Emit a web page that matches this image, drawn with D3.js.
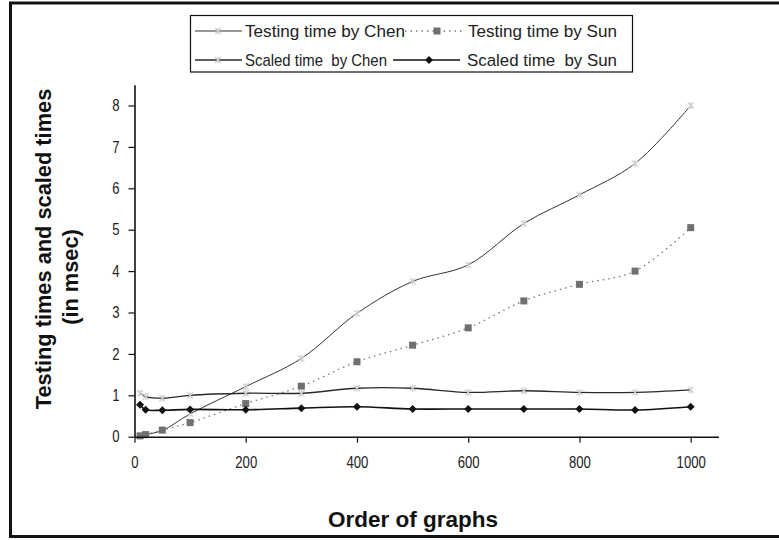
<!DOCTYPE html>
<html>
<head>
<meta charset="utf-8">
<script src="https://cdn.jsdelivr.net/npm/d3@7"></script>
<style>
  body { margin: 0; background: #fff; }
  svg { display: block; }
</style>
</head>
<body>
<script>
// graph orders on the x axis
var orders = [10, 20, 50, 100, 200, 300, 400, 500, 600, 700, 800, 900, 1000];

// values in msec
var chenTesting = [0.02, 0.05, 0.15, 0.55, 1.21, 1.89, 2.98, 3.75, 4.15, 5.15, 5.84, 6.6, 8.0];
var sunTesting  = [0.02, 0.05, 0.16, 0.34, 0.8, 1.22, 1.81, 2.21, 2.63, 3.28, 3.68, 4.0, 5.05];
var chenScaled  = [1.05, 0.97, 0.93, 1.0, 1.05, 1.05, 1.17, 1.17, 1.07, 1.11, 1.07, 1.07, 1.13];
var sunScaled   = [0.77, 0.65, 0.64, 0.66, 0.65, 0.69, 0.725, 0.67, 0.67, 0.67, 0.67, 0.645, 0.725];

var xTicks = [0, 200, 400, 600, 800, 1000];
var yTicks = [0, 1, 2, 3, 4, 5, 6, 7, 8];

var seriesNames = ["Testing time by Chen", "Testing time by Sun", "Scaled time  by Chen", "Scaled time  by Sun"];

var width = 779, height = 540;

var svg = d3.select("body").append("svg")
	.attr("width", width)
	.attr("height", height);

svg.append("rect").attr("width", width).attr("height", height).attr("fill", "#fff");

// frame (no right edge in the original)
svg.append("path")
	.attr("d", "M779,3H10.5V536.5H779")
	.attr("fill", "none")
	.attr("stroke", "#111")
	.attr("stroke-width", 3);

var x = d3.scaleLinear().domain([0, 1050]).range([134.5, 718.5]);
var y = d3.scaleLinear().domain([0, 8.5]).range([436.7, 84.8]);

var series = [
	{ name: seriesNames[0], values: chenTesting, stroke: "#333", width: 1, dash: null, marker: "x" },
	{ name: seriesNames[1], values: sunTesting, stroke: "#777", width: 1.3, dash: "1.5,4", marker: "square" },
	{ name: seriesNames[2], values: chenScaled, stroke: "#2a2a2a", width: 1.3, dash: null, marker: "x" },
	{ name: seriesNames[3], values: sunScaled, stroke: "#111", width: 1.6, dash: null, marker: "diamond" }
];

var line = d3.line()
	.x((d) => x(d.x))
	.y((d) => y(d.y))
	.curve(d3.curveCatmullRom.alpha(0.5));

var g = svg.append("g");

function drawMarker(sel, type) {
	if (type === "x") {
		sel.append("path")
			.attr("d", "M-3,-3L3,3M-3,3L3,-3M0,-3.5V3.5")
			.attr("stroke", "#cfcfcf")
			.attr("stroke-width", 1.2)
			.attr("fill", "none");
	} else if (type === "square") {
		sel.append("rect")
			.attr("x", -3.5).attr("y", -3.5)
			.attr("width", 7).attr("height", 7)
			.attr("fill", "#707070");
	} else {
		sel.append("path")
			.attr("d", "M0,-4L4,0L0,4L-4,0Z")
			.attr("fill", "#111");
	}
}

series.forEach((s) => {
	var pts = orders.map((o, i) => ({ x: o, y: s.values[i] }));
	g.append("path")
		.datum(pts)
		.attr("d", line)
		.attr("fill", "none")
		.attr("stroke", s.stroke)
		.attr("stroke-width", s.width)
		.attr("stroke-dasharray", s.dash);
	g.selectAll(null)
		.data(pts)
		.enter()
		.append("g")
		.attr("transform", (d) => "translate(" + x(d.x) + "," + y(d.y) + ")")
		.each(function() { drawMarker(d3.select(this), s.marker); });
});

// axes
var tickFont = "'Liberation Sans', Arial, sans-serif";
var squeeze = 0.82; // tick labels are narrow in the original

var xAxis = svg.append("g")
	.attr("transform", "translate(0," + y(0) + ")")
	.call(d3.axisBottom(x).tickValues(xTicks).tickFormat(d3.format("d"))
		.tickSize(6).tickPadding(14).tickSizeOuter(0));
var yAxis = svg.append("g")
	.attr("transform", "translate(" + x(0) + ",0)")
	.call(d3.axisLeft(y).tickValues(yTicks).tickFormat(d3.format("d"))
		.tickSize(6).tickPadding(9).tickSizeOuter(0));

[xAxis, yAxis].forEach((a) => {
	a.select(".domain").attr("stroke", "#111").attr("stroke-width", 1.6);
	a.selectAll(".tick line").attr("stroke", "#111").attr("stroke-width", 1.2);
	a.selectAll(".tick text")
		.attr("fill", "#222")
		.style("font-family", tickFont)
		.style("font-size", "16px")
		.attr("transform", "scale(" + squeeze + ",1)");
});
yAxis.selectAll(".tick text").attr("x", -15 / squeeze);

// axis titles
svg.append("text")
	.attr("x", 413)
	.attr("y", 527)
	.attr("text-anchor", "middle")
	.style("font-family", "'Liberation Sans', Arial, sans-serif")
	.style("font-weight", "bold")
	.style("font-size", "22.5px")
	.attr("fill", "#111")
	.text("Order of graphs");

svg.append("text")
	.attr("transform", "rotate(-90)")
	.attr("x", -249)
	.attr("y", 51)
	.attr("text-anchor", "middle")
	.style("font-family", "'Liberation Sans', Arial, sans-serif")
	.style("font-weight", "bold")
	.style("font-size", "21.8px")
	.attr("fill", "#111")
	.text("Testing times and scaled times");

svg.append("text")
	.attr("transform", "rotate(-90)")
	.attr("x", -277)
	.attr("y", 78)
	.attr("text-anchor", "middle")
	.style("font-family", "'Liberation Sans', Arial, sans-serif")
	.style("font-weight", "bold")
	.style("font-size", "21.8px")
	.attr("fill", "#111")
	.text("(in msec)");

// legend
var legend = svg.append("g");
legend.append("rect")
	.attr("x", 190.5).attr("y", 15.5)
	.attr("width", 442).attr("height", 56.5)
	.attr("fill", "#fff")
	.attr("stroke", "#111")
	.attr("stroke-width", 1.2);

var legendPos = [
	{ x1: 195, x2: 242, mx: 218, tx: 245, ty: 37, len: 160 },
	{ x1: 405, x2: 463, mx: 437, tx: 468, ty: 37, len: 149 },
	{ x1: 195, x2: 242, mx: 218, tx: 245, ty: 66, len: 142 },
	{ x1: 393, x2: 460, mx: 429, tx: 467, ty: 66, len: 150 }
];

series.forEach((s, i) => {
	var p = legendPos[i];
	var cy = p.ty - 6;
	legend.append("line")
		.attr("x1", p.x1).attr("x2", p.x2)
		.attr("y1", cy).attr("y2", cy)
		.attr("stroke", s.stroke)
		.attr("stroke-width", s.width)
		.attr("stroke-dasharray", s.dash);
	drawMarker(legend.append("g").attr("transform", "translate(" + p.mx + "," + cy + ")"), s.marker);
	legend.append("text")
		.attr("x", p.tx)
		.attr("y", p.ty)
		.attr("textLength", p.len)
		.attr("lengthAdjust", "spacingAndGlyphs")
		.style("font-family", "'Liberation Sans', Arial, sans-serif")
		.style("font-size", "17px")
		.style("white-space", "pre")
		.attr("fill", "#222")
		.text(s.name);
});
</script>
</body>
</html>
